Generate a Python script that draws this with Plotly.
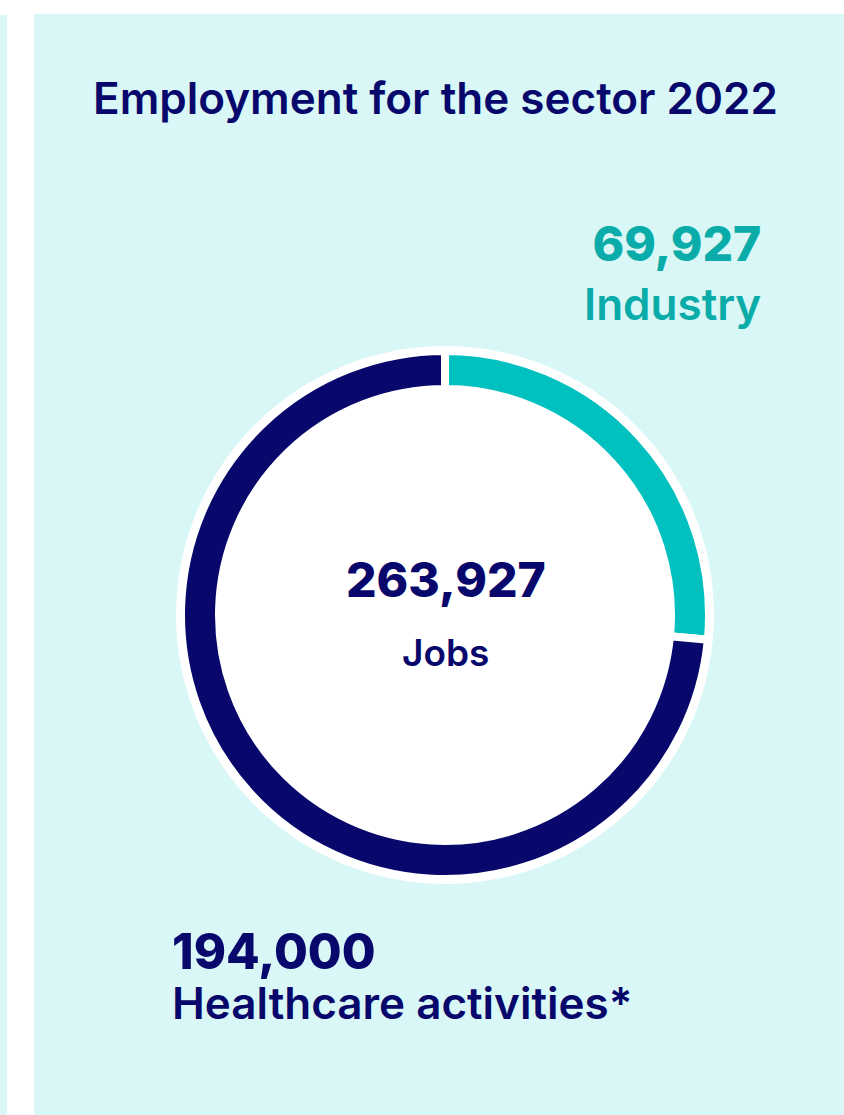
import plotly.graph_objects as go

# ---- data ----
categories = ["Industry", "Healthcare activities*"]
values = [69927, 194000]
value_labels = ["69,927", "194,000"]
total_label = "263,927"
total_caption = "Jobs"
title_text = "Employment for the sector 2022"

# ---- style ----
W, H = 844, 1115
NAVY = "#07076C"
TEAL_RING = "#00C0C0"
TEAL_TEXT = "#0AACA9"
PANEL = "#D8F7F6"
FONT = "Inter"

cx, cy = 445, 615          # donut centre (px from top-left)
r_out, r_in, gap = 260, 230, 8
r_bg = 269

R = r_out + gap / 2
hole = (r_in - gap / 2) / R

def px_x(x):
    return x / W

def px_y(y):
    return 1 - y / H

fig = go.Figure()
fig.add_trace(go.Pie(
    labels=categories,
    values=values,
    hole=hole,
    sort=False,
    direction="clockwise",
    rotation=0,
    marker=dict(colors=[TEAL_RING, NAVY], line=dict(color="white", width=gap)),
    textinfo="none",
    hoverinfo="label+value",
    showlegend=False,
    domain=dict(x=[px_x(cx - R), px_x(cx + R)], y=[px_y(cy + R), px_y(cy - R)]),
))

shapes = [
    dict(type="rect", xref="paper", yref="paper", x0=px_x(34), x1=1.0, y0=0, y1=px_y(14),
         fillcolor=PANEL, line=dict(width=0), layer="below"),
    dict(type="rect", xref="paper", yref="paper", x0=0, x1=px_x(7), y0=0, y1=px_y(15),
         fillcolor=PANEL, line=dict(width=0), layer="below"),
    dict(type="circle", xref="paper", yref="paper",
         x0=px_x(cx - r_bg), x1=px_x(cx + r_bg), y0=px_y(cy + r_bg), y1=px_y(cy - r_bg),
         fillcolor="white", line=dict(width=0), layer="below"),
]

def ann(text, x, y, size, color, weight, xanchor, yanchor="middle"):
    return dict(text=text, x=px_x(x), y=px_y(y), xref="paper", yref="paper",
                xanchor=xanchor, yanchor=yanchor, showarrow=False, align=xanchor,
                font=dict(family=FONT, size=size, color=color, weight=weight))

def two_line(top, bottom, top_size, bottom_size):
    return (f"<span style='font-size:{top_size}px;font-weight:800'>{top}</span><br>"
            f"<span style='font-size:{bottom_size}px;font-weight:600'>{bottom}</span>")

annotations = [
    ann(title_text, 91, 98, 44, NAVY, 600, "left"),
    ann(two_line(value_labels[0], categories[0], 48, 44), 763, 273, 45, TEAL_TEXT, 600, "right"),
    ann(total_label, 446, 580, 48, NAVY, 800, "center"),
    ann(total_caption, 445, 652, 37, NAVY, 600, "center"),
    ann(two_line(value_labels[1], categories[1], 49, 44), 170, 976, 38.5, NAVY, 600, "left"),
]

fig.update_layout(
    width=W, height=H,
    margin=dict(l=0, r=0, t=0, b=0),
    paper_bgcolor="white", plot_bgcolor="white",
    shapes=shapes, annotations=annotations,
)

fig.write_html("out.html", config={"responsive": False, "displayModeBar": False},
               post_script="document.body.style.margin='0';document.body.style.overflow='hidden';")
